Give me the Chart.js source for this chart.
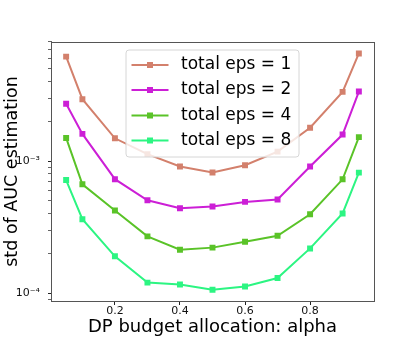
<!DOCTYPE html>
<html>
<head>
<meta charset="utf-8">
<script src="https://cdn.jsdelivr.net/npm/chart.js@4/dist/chart.umd.min.js"></script>
<style>
  html, body { margin: 0; padding: 0; background: #fff; }
  #wrap { width: 415px; height: 346px; }
</style>
</head>
<body>
<div id="wrap"><canvas id="c" width="415" height="346"></canvas></div>
<script>
// ---- data ----
const alpha = [0.05, 0.1, 0.2, 0.3, 0.4, 0.5, 0.6, 0.7, 0.8, 0.9, 0.95];
const seriesLabels = ['total eps = 1', 'total eps = 2', 'total eps = 4', 'total eps = 8'];
const eps1 = [6.2e-3, 2.95e-3, 1.49e-3, 1.13e-3, 9.1e-4, 8.2e-4, 9.3e-4, 1.18e-3, 1.79e-3, 3.35e-3, 6.55e-3];
const eps2 = [2.72e-3, 1.61e-3, 7.3e-4, 5.05e-4, 4.4e-4, 4.53e-4, 4.91e-4, 5.12e-4, 9.1e-4, 1.59e-3, 3.37e-3];
const eps4 = [1.50e-3, 6.67e-4, 4.23e-4, 2.69e-4, 2.13e-4, 2.21e-4, 2.45e-4, 2.72e-4, 3.96e-4, 7.28e-4, 1.52e-3];
const eps8 = [7.19e-4, 3.63e-4, 1.90e-4, 1.20e-4, 1.16e-4, 1.06e-4, 1.12e-4, 1.30e-4, 2.18e-4, 4.01e-4, 8.18e-4];
const xTicks = [0.2, 0.4, 0.6, 0.8];
const yTicks = [9e-5, 1e-4, 2e-4, 3e-4, 4e-4, 5e-4, 6e-4, 7e-4, 8e-4, 9e-4,
                1e-3, 2e-3, 3e-3, 4e-3, 5e-3, 6e-3, 7e-3, 8e-3];
const yMajorLabels = { '-3': '10\u207B\u00B3', '-4': '10\u207B\u2074' };
const colors = ['#d3806c', '#cc1fd6', '#5ac328', '#2cf582'];
const allSeries = [eps1, eps2, eps4, eps8];

const FONT = "'DejaVu Sans', sans-serif";

const datasets = allSeries.map((s, i) => ({
  label: seriesLabels[i],
  data: s.map((v, j) => ({ x: alpha[j], y: v })),
  borderColor: colors[i],
  backgroundColor: colors[i],
  borderWidth: 2,
  pointStyle: 'rect',
  pointRadius: 4.2,
  pointBorderWidth: 0,
  pointBackgroundColor: colors[i],
  tension: 0
}));

const isMajor = v => Math.abs(Math.log10(v) - Math.round(Math.log10(v))) < 1e-9;

const framePlugin = {
  id: 'frameAndLegend',
  afterDraw(chart) {
    const ctx = chart.ctx;
    const a = chart.chartArea;
    ctx.save();
    // frame
    ctx.strokeStyle = '#555';
    ctx.lineWidth = 1;
    ctx.strokeRect(Math.round(a.left) - 0.5, Math.round(a.top) + 0.5,
                   Math.round(a.right) - Math.round(a.left) + 1, Math.round(a.bottom) - Math.round(a.top) - 1);
    // legend
    const bx = 126, by = 50, bw = 173, bh = 107, r = 3;
    ctx.beginPath();
    ctx.moveTo(bx + r, by);
    ctx.lineTo(bx + bw - r, by);
    ctx.quadraticCurveTo(bx + bw, by, bx + bw, by + r);
    ctx.lineTo(bx + bw, by + bh - r);
    ctx.quadraticCurveTo(bx + bw, by + bh, bx + bw - r, by + bh);
    ctx.lineTo(bx + r, by + bh);
    ctx.quadraticCurveTo(bx, by + bh, bx, by + bh - r);
    ctx.lineTo(bx, by + r);
    ctx.quadraticCurveTo(bx, by, bx + r, by);
    ctx.closePath();
    ctx.fillStyle = 'rgba(255,255,255,0.8)';
    ctx.fill();
    ctx.strokeStyle = '#d6d6d6';
    ctx.lineWidth = 1;
    ctx.stroke();
    const rowY = [65, 90, 115.5, 140.5];
    chart.data.datasets.forEach((ds, i) => {
      const y = rowY[i];
      ctx.strokeStyle = ds.borderColor;
      ctx.lineWidth = 2;
      ctx.beginPath();
      ctx.moveTo(131.5, y);
      ctx.lineTo(168.5, y);
      ctx.stroke();
      ctx.fillStyle = ds.borderColor;
      ctx.fillRect(147, y - 3, 6, 6);
      ctx.fillStyle = '#000';
      ctx.font = '17px ' + FONT;
      ctx.textBaseline = 'middle';
      ctx.textAlign = 'left';
      ctx.fillText(ds.label, 181, y);
    });
    ctx.restore();
  }
};

new Chart(document.getElementById('c'), {
  type: 'line',
  data: { datasets },
  options: {
    responsive: false,
    animation: false,
    layout: { padding: { left: 0, top: 41.5, right: 41.5, bottom: 0 } },
    plugins: { legend: { display: false }, tooltip: { enabled: false } },
    scales: {
      x: {
        type: 'linear',
        min: 0.005,
        max: 0.995,
        afterBuildTicks: s => { s.ticks = xTicks.map(v => ({ value: v })); },
        afterFit: s => { s.height = 44.5; },
        grid: { drawOnChartArea: false, drawTicks: true, tickLength: 3.5, color: '#222', tickWidth: 1 },
        border: { display: false },
        ticks: {
          autoSkip: false, maxRotation: 0, padding: 0,
          color: '#111', font: { family: FONT, size: 11 },
          callback: v => v.toFixed(1)
        },
        title: {
          display: true, text: 'DP budget allocation: alpha',
          color: '#000', font: { family: FONT, size: 18 },
          padding: { top: 0, bottom: 8 }
        }
      },
      y: {
        type: 'logarithmic',
        min: 8.63e-5,
        max: 8.07e-3,
        afterBuildTicks: s => { s.ticks = yTicks.map(v => ({ value: v, major: isMajor(v) })); },
        afterFit: s => { s.width = 51.5; },
        grid: {
          drawOnChartArea: false, drawTicks: true, tickLength: 3.5,
          color: '#222',
          tickWidth: c => (c.tick && isMajor(c.tick.value)) ? 1 : 0.7
        },
        border: { display: false },
        ticks: {
          autoSkip: false, padding: 8,
          color: '#111', font: { family: FONT, size: 11 },
          callback: v => isMajor(v) ? (yMajorLabels[String(Math.round(Math.log10(v)))] || '') : ''
        },
        title: {
          display: true, text: 'std of AUC estimation',
          color: '#000', font: { family: FONT, size: 17.5 },
          padding: { top: 2, bottom: 0 }
        }
      }
    }
  },
  plugins: [framePlugin]
});
</script>
</body>
</html>
